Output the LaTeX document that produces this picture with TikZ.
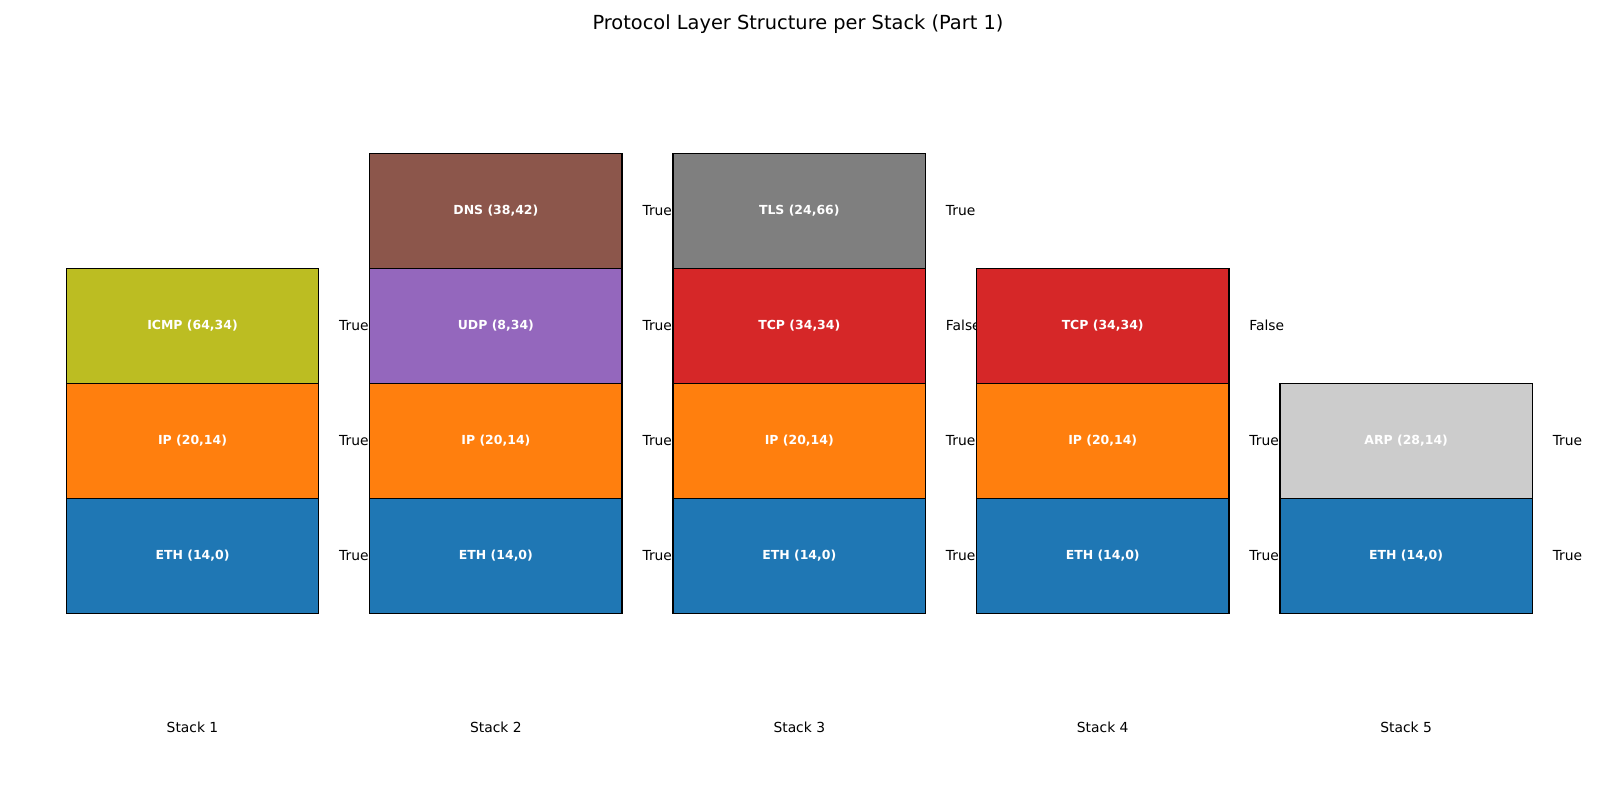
\documentclass[tikz,border=0pt]{standalone}
\usepackage{fontspec}
\setmainfont{DejaVu Sans}
\definecolor{EthBlue}{HTML}{1F77B4}
\definecolor{IpOrange}{HTML}{FF7F0E}
\definecolor{TcpRed}{HTML}{D62728}
\definecolor{UdpPurple}{HTML}{9467BD}
\definecolor{DnsBrown}{HTML}{8C564B}
\definecolor{TlsGray}{HTML}{7F7F7F}
\definecolor{IcmpOlive}{HTML}{BCBD22}
\definecolor{ArpGray}{HTML}{CCCCCC}

\begin{document}
\begin{tikzpicture}[
                x=0.01in, y=-0.01in,
                layer/.style={draw=black, line width=1pt, minimum width=2.524in, minimum height=1.15in, inner sep=0pt, font=\fontsize{9}{11}\selectfont\bfseries, text=white},
                eth/.style={layer, fill=EthBlue},
                ip/.style={layer, fill=IpOrange},
                tcp/.style={layer, fill=TcpRed},
                udp/.style={layer, fill=UdpPurple},
                dns/.style={layer, fill=DnsBrown},
                tls/.style={layer, fill=TlsGray},
                icmp/.style={layer, fill=IcmpOlive},
                arp/.style={layer, fill=ArpGray},
                flag/.style={anchor=west, inner sep=0pt, font=\fontsize{10}{12}\selectfont},
                stacklbl/.style={inner sep=0pt, font=\fontsize{10}{12}\selectfont}
            ]
                \useasboundingbox (0,0) rectangle (1600,800);

                % Title
                \node[font=\fontsize{14}{17}\selectfont] (title) at (798, 24.5) {Protocol Layer Structure per Stack (Part 1)};

                % Stack 1
                \node[eth] (eth1) at (192.5, 555.8) {ETH (14,0)};
                \node[ip] (ip1) at (192.5, 440.8) {IP (20,14)};
                \node[icmp] (icmp1) at (192.5, 325.8) {ICMP (64,34)};
                \node[flag] (flag1a) at (338.9, 555.8) {True};
                \node[flag] (flag1b) at (338.9, 440.8) {True};
                \node[flag] (flag1c) at (338.9, 325.8) {True};
                \node[stacklbl] (lbl1) at (192.5, 727.5) {Stack 1};

                % Stack 2
                \node[eth] (eth2) at (495.9, 555.8) {ETH (14,0)};
                \node[ip] (ip2) at (495.9, 440.8) {IP (20,14)};
                \node[udp] (udp2) at (495.9, 325.8) {UDP (8,34)};
                \node[dns] (dns2) at (495.9, 210.8) {DNS (38,42)};
                \node[flag] (flag2a) at (642.3, 555.8) {True};
                \node[flag] (flag2b) at (642.3, 440.8) {True};
                \node[flag] (flag2c) at (642.3, 325.8) {True};
                \node[flag] (flag2d) at (642.3, 210.8) {True};
                \node[stacklbl] (lbl2) at (495.9, 727.5) {Stack 2};

                % Stack 3
                \node[eth] (eth3) at (799.3, 555.8) {ETH (14,0)};
                \node[ip] (ip3) at (799.3, 440.8) {IP (20,14)};
                \node[tcp] (tcp3) at (799.3, 325.8) {TCP (34,34)};
                \node[tls] (tls3) at (799.3, 210.8) {TLS (24,66)};
                \node[flag] (flag3a) at (945.7, 555.8) {True};
                \node[flag] (flag3b) at (945.7, 440.8) {True};
                \node[flag] (flag3c) at (945.7, 325.8) {False};
                \node[flag] (flag3d) at (945.7, 210.8) {True};
                \node[stacklbl] (lbl3) at (799.3, 727.5) {Stack 3};

                % Stack 4
                \node[eth] (eth4) at (1102.7, 555.8) {ETH (14,0)};
                \node[ip] (ip4) at (1102.7, 440.8) {IP (20,14)};
                \node[tcp] (tcp4) at (1102.7, 325.8) {TCP (34,34)};
                \node[flag] (flag4a) at (1249.1, 555.8) {True};
                \node[flag] (flag4b) at (1249.1, 440.8) {True};
                \node[flag] (flag4c) at (1249.1, 325.8) {False};
                \node[stacklbl] (lbl4) at (1102.7, 727.5) {Stack 4};

                % Stack 5
                \node[eth] (eth5) at (1406.1, 555.8) {ETH (14,0)};
                \node[arp] (arp5) at (1406.1, 440.8) {ARP (28,14)};
                \node[flag] (flag5a) at (1552.5, 555.8) {True};
                \node[flag] (flag5b) at (1552.5, 440.8) {True};
                \node[stacklbl] (lbl5) at (1406.1, 727.5) {Stack 5};
            \end{tikzpicture}
\end{document}
